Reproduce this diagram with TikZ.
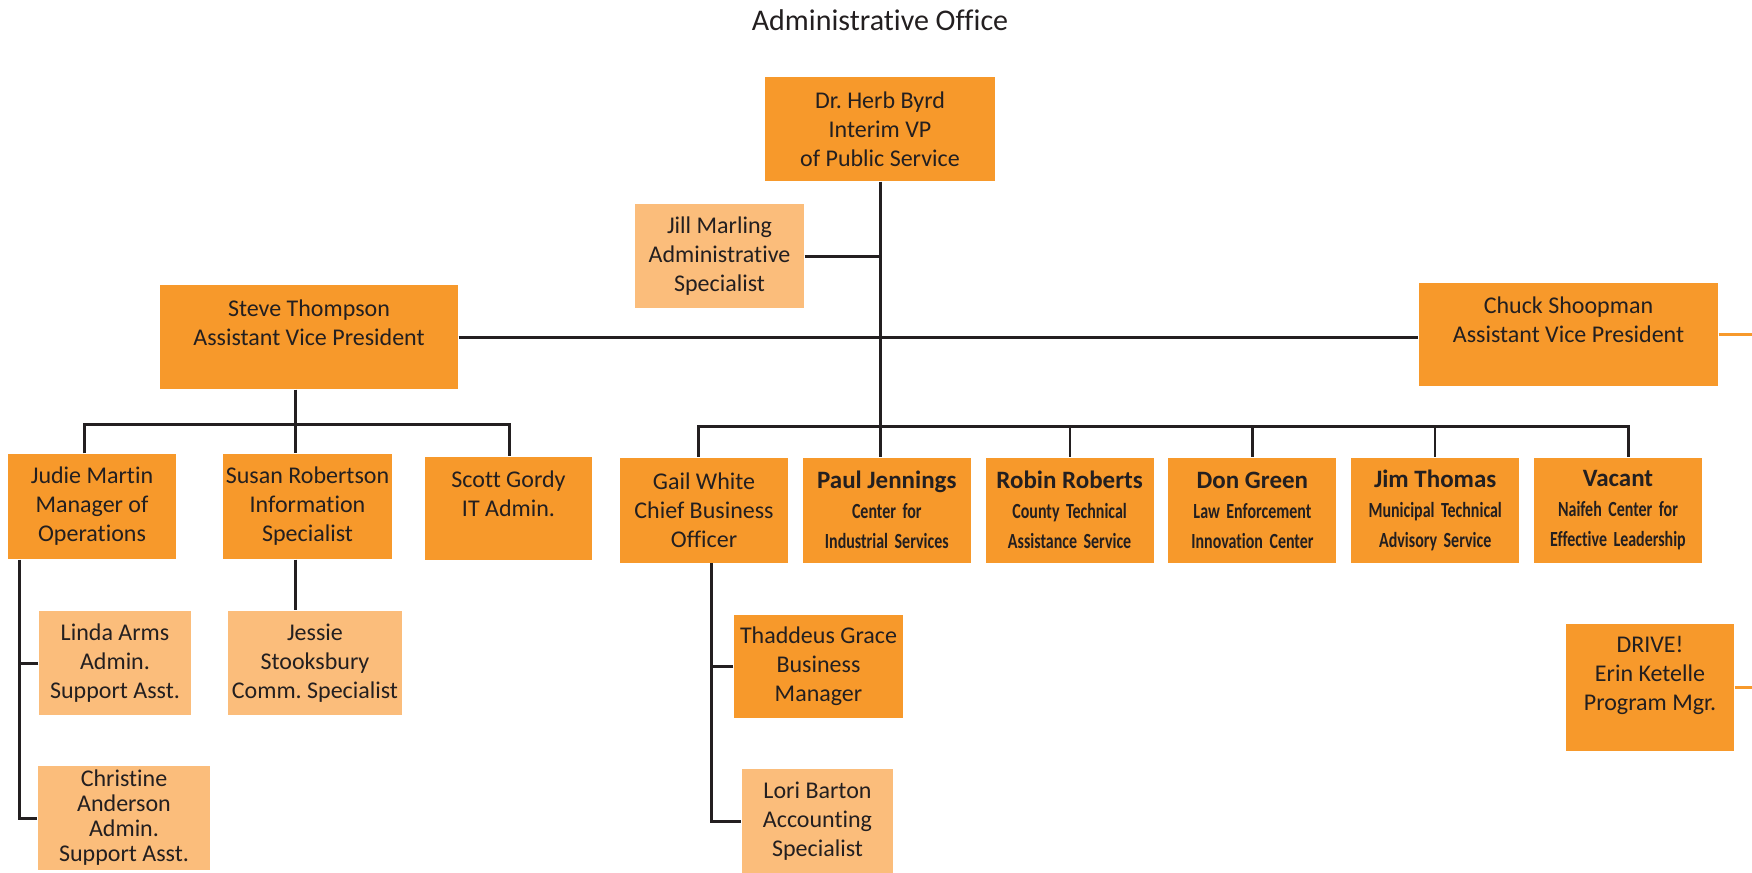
\documentclass[tikz,border=0pt]{standalone}
\usepackage{fontspec}
\setmainfont[Ligatures=NoCommon]{Carlito}
\newfontfamily\condfont[FakeStretch=0.74,WordSpace=1.8,Ligatures=NoCommon]{Carlito}
\usepackage{xcolor}
\usepackage{tikz}
\usetikzlibrary{calc}
\usetikzlibrary{positioning}

\definecolor{darkorange}{HTML}{F7992B}
\definecolor{lightorange}{HTML}{FBBD7B}
\definecolor{ink}{HTML}{231F20}

\newcommand{\boxfont}{\fontsize{12}{14.5}\selectfont}
\newcommand{\divname}[1]{{\bfseries\fontsize{12.5}{15}\selectfont #1}}
\newcommand{\divsub}[1]{{\condfont\bfseries\fontsize{10.8}{15}\selectfont #1}}
\frenchspacing

\begin{document}
\begin{tikzpicture}[x=0.5pt, y=-0.5pt, node distance=91.4pt, semithick]
 	\tikzstyle{every node}=[text=ink]
 	\tikzstyle{post}=[rectangle, fill=darkorange, align=center, inner sep=1pt, minimum width=84pt, minimum height=52pt, font=\boxfont]
 	\tikzstyle{assist}=[post, fill=lightorange]
 	\tikzstyle{division}=[post, minimum height=52.5pt, font=\fontsize{12}{15}\selectfont]
 	\tikzstyle{wire}=[draw=ink, line width=1.5pt]
 	\tikzstyle{feed}=[draw=darkorange, line width=1.5pt]
 	\useasboundingbox (0,0) rectangle (1752,873);
 		\node (title) at (880,20) {\fontsize{15}{18}\selectfont Administrative Office};
 		\node[post, minimum width=115pt] (herb) at (880,129) {Dr. Herb Byrd\\Interim VP\\of Public Service};
 		\node[assist, minimum width=84.5pt] (jill) at (719.5,256) {Jill Marling\\Administrative\\Specialist};
 		\node[post, minimum width=149pt] (steve) at (309,337) {Steve Thompson\\Assistant Vice President\\\mbox{}};
 		\node[post, minimum width=149.5pt, minimum height=51.5pt] (chuck) at (1568.5,334.5) {Chuck Shoopman\\Assistant Vice President\\\mbox{}};
 		% left branch
 		\node[post, minimum height=52.5pt] (judie) at (92,506.5) {Judie Martin\\Manager of\\Operations};
 		\node[post, minimum width=84.5pt, minimum height=52.5pt] (susan) at (307.5,506.5) {Susan Robertson\\Information\\Specialist};
 		\node[post, minimum width=83.5pt, minimum height=51.5pt] (scott) at (508.5,508.5) {Scott Gordy\\IT Admin.\\\mbox{}};
 		\node[assist, minimum width=76pt] (linda) at (115,663) {Linda Arms\\Admin.\\Support Asst.};
 		\node[assist, minimum width=87pt] (jessie) at (315,663) {Jessie\\Stooksbury\\Comm. Specialist};
 		\node[assist, minimum width=86pt, font=\fontsize{12}{12.5}\selectfont] (christine) at (124,818) {Christine\\Anderson\\Admin.\\Support Asst.};
 		% centre row
 		\node[post, minimum height=52.5pt] (gail) at (704,510) {Gail White\\Chief Business\\Officer};
 		\node[division] (paul) [right of=gail] {\divname{Paul Jennings}\\\divsub{Center for}\\\divsub{Industrial Services}};
 		\node[division] (robin) [right of=paul] {\divname{Robin Roberts}\\\divsub{County Technical}\\\divsub{Assistance Service}};
 		\node[division] (don) [right of=robin] {\divname{Don Green}\\\divsub{Law Enforcement}\\\divsub{Innovation Center}};
 		\node[division] (jim) [right of=don] {\divname{Jim Thomas}\\\divsub{Municipal Technical}\\\divsub{Advisory Service}};
 		\node[division] (vacant) [right of=jim] {\divname{Vacant}\\\divsub{Naifeh Center for}\\\divsub{Effective Leadership}};
 		\node[post, minimum width=84.5pt, minimum height=51.5pt] (thaddeus) at (818.5,666.5) {Thaddeus Grace\\Business\\Manager};
 		\node[assist, minimum width=75.5pt] (lori) at (817.5,821) {Lori Barton\\Accounting\\Specialist};
 		\node[post, minimum height=63.5pt] (drive) at (1650,687.5) {DRIVE!\\Erin Ketelle\\Program Mgr.\\\mbox{}};
 		% helper points
 		\coordinate (lbus) at (295,424);
 		\coordinate (rbus) at (0,426);
 		\coordinate (rim) at (1752,0);
 		\coordinate (jl) at ([xshift=6pt]judie.south west);
 		\coordinate (gl) at ([xshift=3.5pt]gail.south);
 	\path
 		(jill.east) edge [wire] (jill.east -| herb.south)
 		(steve.east) edge [wire] (steve.east -| chuck.west)
 		(chuck.east) edge [feed] (chuck.east -| rim)
 		(drive.east) edge [feed] (drive.east -| rim)
 		(herb.south) edge [wire] (herb.south |- paul.north)
 		(steve.south -| lbus) edge [wire] (susan.north -| lbus)
 		(susan.south -| lbus) edge [wire] (jessie.north -| lbus)
 		(linda.west) edge [wire] (linda.west -| jl)
 		(thaddeus.west) edge [wire] (thaddeus.west -| gl);
 	\draw[wire] ([xshift=-4pt]judie.north) |- ([xshift=0.5pt]scott.north |- lbus) -- ([xshift=0.5pt]scott.north);
 	\draw[wire] (jl) |- (christine.west);
 	\draw[wire] ([xshift=-3pt]gail.north) |- ([xshift=5pt]vacant.north |- rbus) -- ([xshift=5pt]vacant.north);
 	\draw[wire] (gl) |- (lori.west);
 	\foreach \n in {robin,don,jim}
 		\draw[wire, line width=1.1pt] (\n.north) -- (\n.north |- rbus);
\end{tikzpicture}
\end{document}
